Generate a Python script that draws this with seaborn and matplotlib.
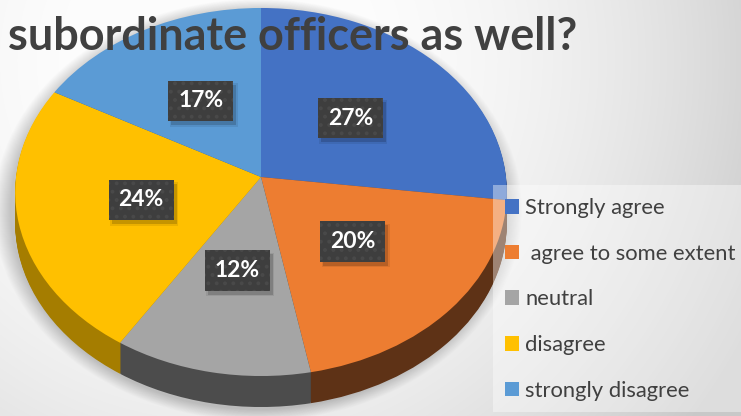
import numpy as np
import matplotlib
matplotlib.use("Agg")
import matplotlib.pyplot as plt
import seaborn as sns
from matplotlib.transforms import Transform
from matplotlib.patches import Rectangle, Ellipse

sns.set_theme(style="white")
plt.rcParams['font.family'] = ['Lato', 'DejaVu Sans']
plt.rcParams['hatch.linewidth'] = 1.6

# ---- data ----
categories = ["Strongly agree", " agree to some extent", "neutral", "disagree", "strongly disagree"]
shares = [27, 20, 12, 24, 17]
face_colors = ["#4472C4", "#ED7D31", "#A5A5A5", "#FFC000", "#5B9BD5"]
side_colors = ["#253F6E", "#5E3216", "#4C4C4C", "#A57D00", "#335A80"]
title = "subordinate officers as well?"

W, H = 741, 416
fig = plt.figure(figsize=(W / 100, H / 100), dpi=100)

# soft radial backdrop
bg = fig.add_axes([0, 0, 1, 1], zorder=-10)
yy, xx = np.mgrid[0:H, 0:W]
r = np.hypot(xx - 220, yy - 60)
shade = np.clip(255 - 16 * (r / 342) ** 2.23, 200, 252) / 255
bg.imshow(np.dstack([shade] * 3), extent=(0, W, H, 0), aspect='auto', interpolation='bilinear')
bg.set_xlim(0, W)
bg.set_ylim(H, 0)
bg.axis('off')

ax = fig.add_axes([0, 0, 1, 1])
ax.patch.set_alpha(0)


class Tilt(Transform):
    """Maps the unit pie disc onto a tilted, perspective view in pixel space."""
    input_dims = output_dims = 2
    is_separable = False
    has_inverse = False

    def __init__(self, cx, cy, rx, ry, persp, drop=0.0):
        super().__init__()
        self.cx, self.cy, self.rx, self.ry = cx, cy, rx, ry
        self.persp, self.drop = persp, drop

    def transform_non_affine(self, values):
        values = np.asarray(values, float)
        u = values[..., 0]
        v = values[..., 1]
        d = 1 + self.persp * v
        return np.stack([self.cx + self.rx * u / d,
                         self.cy - self.ry * v / d + self.drop], axis=-1)


CX, CY, RX, RY, PERSP = 261, 177, 245, 182.8, 0.0815
DEPTH = 31

# drop shadow under the pie
for k in range(1, 18):
    ax.add_patch(Ellipse((258, 210), 2 * (247 + k), 2 * (199 + 0.7 * k),
                         facecolor='black', alpha=0.013, linewidth=0, zorder=0.5))

pie_kw = dict(startangle=90, counterclock=False, wedgeprops=dict(linewidth=0))

# side wall: stacked darker layers
for dz in range(DEPTH, 0, -1):
    wedges, texts = ax.pie(shares, colors=side_colors, **pie_kw)
    for w in wedges:
        w.set_transform(Tilt(CX, CY, RX, RY, PERSP, dz) + ax.transData)
    for t in texts:
        t.remove()

# top face with percentage labels
label_fs = 16.5
wedges, texts, autotexts = ax.pie(
    shares, colors=face_colors, autopct=lambda p: f"{p:.0f}%", pctdistance=0.5,
    textprops=dict(color='white', fontsize=label_fs, fontweight='bold'), **pie_kw)
top_tr = Tilt(CX, CY, RX, RY, PERSP, 0) + ax.transData
for w in wedges:
    w.set_transform(top_tr)
for t in texts:
    t.remove()
for t in autotexts:
    t.set_transform(top_tr)
    t.set_zorder(6)
    t.set_bbox(dict(boxstyle='square,pad=0.43', facecolor='#3e3e3e',
                    edgecolor='#494949', hatch='..', linewidth=0))

ax.set_aspect('auto')
ax.set_xlim(0, W)
ax.set_ylim(H, 0)
ax.axis('off')

# soft shadow behind each label box, sized from the rendered boxes
fig.canvas.draw()
for t in autotexts:
    ext = t.get_bbox_patch().get_window_extent()
    x0, x1 = ext.x0, ext.x1
    top_px, bot_px = H - ext.y1, H - ext.y0
    for grow, a in [(0, 0.16), (1.5, 0.08)]:
        ax.add_patch(Rectangle((x0 + 3 - grow, top_px + 4 - grow),
                               (x1 - x0) + 2 * grow, (bot_px - top_px) + 2 * grow,
                               facecolor='black', alpha=a, linewidth=0, zorder=5.5))

# legend panel
ax.add_patch(Rectangle((493, 185), 260, 227, facecolor='white', alpha=0.4,
                       linewidth=0, zorder=7))
fig.legend(wedges, categories, loc='upper left',
           bbox_to_anchor=(505 / W, 1 - 198 / H), frameon=False, fontsize=15.8,
           handlelength=0.64, handleheight=0.64, handletextpad=0.28,
           labelspacing=1.17, borderpad=0, borderaxespad=0, labelcolor='#404040')

fig.text(8 / W, 1 - 50 / H, title, fontsize=32.4, fontweight='bold',
         color='#404040', va='baseline', zorder=10)

fig.savefig('out.png', dpi=100)
